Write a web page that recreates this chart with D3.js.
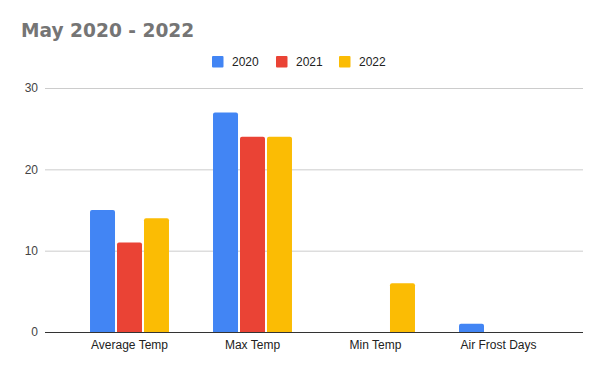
<!DOCTYPE html>
<html><head><meta charset="utf-8">
<script src="https://cdn.jsdelivr.net/npm/d3@7"></script>
<style>body{margin:0;background:#fff}svg{display:block}</style>
</head><body>
<svg id="c" width="600" height="371"></svg>
<script>
const categories = ["Average Temp", "Max Temp", "Min Temp", "Air Frost Days"];
const seriesNames = ["2020", "2021", "2022"];
const values2020 = [15, 27, 0, 1];
const values2021 = [11, 24, 0, 0];
const values2022 = [14, 24, 6, 0];
const yTicks = [0, 10, 20, 30];
const colors = ["#4285F4", "#EA4335", "#FBBC04"];
const seriesValues = [values2020, values2021, values2022];

(function () {
const svg = d3.select("#c");
const pLeft = 45, pRight = 583, pTop = 88, pBottom = 332;

const y = d3.scaleLinear().domain([0, 30]).range([pBottom, pTop]);
const x0 = d3.scaleBand().domain(categories).range([pLeft, pRight]).paddingInner(0.358).paddingOuter(0.366);
const x1 = d3.scaleBand().domain(seriesNames).range([0, x0.bandwidth()]).paddingInner(0.074);

// title
svg.append("text").attr("x", 21).attr("y", 37)
  .attr("font-family", "DejaVu Sans").attr("font-weight", "bold").attr("font-size", 18.6)
  .attr("fill", "#757575").text("May 2020 - 2022");

// gridlines
const yAxis = d3.axisLeft(y).tickValues(yTicks).tickSize(-(pRight - pLeft)).tickPadding(7);
const gy = svg.append("g").attr("transform", `translate(${pLeft},0)`).call(yAxis);
gy.select(".domain").remove();
gy.selectAll(".tick line").attr("stroke", "#cccccc").attr("stroke-width", 1);
gy.selectAll(".tick text").attr("font-family", "Liberation Sans, Arial").attr("font-size", 12).attr("fill", "#444");

// bars
seriesValues.forEach((vals, si) => {
  svg.append("g").selectAll("path").data(categories.map((c, i) => ({c, v: vals[i]})).filter(d => d.v > 0)).join("path")
    .attr("fill", colors[si])
    .attr("d", d => {
      const x = x0(d.c) + x1(seriesNames[si]);
      const w = x1.bandwidth();
      const yt = y(d.v), yb = y(0);
      const r = Math.min(2, (yb - yt) / 2);
      return `M${x},${yb}V${yt + r}Q${x},${yt} ${x + r},${yt}H${x + w - r}Q${x + w},${yt} ${x + w},${yt + r}V${yb}Z`;
    });
});

// x axis
const xAxis = d3.axisBottom(x0).tickSize(0).tickPadding(8);
const gx = svg.append("g").attr("transform", `translate(0,${pBottom})`).call(xAxis);
gx.select(".domain").remove();
gx.selectAll(".tick text").attr("font-family", "Liberation Sans, Arial").attr("font-size", 12).attr("fill", "#222");
svg.append("line").attr("x1", pLeft).attr("x2", pRight).attr("y1", pBottom + 0.5).attr("y2", pBottom + 0.5)
  .attr("stroke", "#333").attr("stroke-width", 1);

// legend
const legendX = [212, 276, 339];
const lg = svg.append("g");
seriesNames.forEach((s, i) => {
  lg.append("rect").attr("x", legendX[i]).attr("y", 56).attr("width", 11.5).attr("height", 11.5).attr("rx", 1).attr("fill", colors[i]);
  lg.append("text").attr("x", legendX[i] + 20).attr("y", 66)
    .attr("font-family", "Liberation Sans, Arial").attr("font-size", 12).attr("fill", "#222").text(s);
});
})();
</script>
</body></html>
